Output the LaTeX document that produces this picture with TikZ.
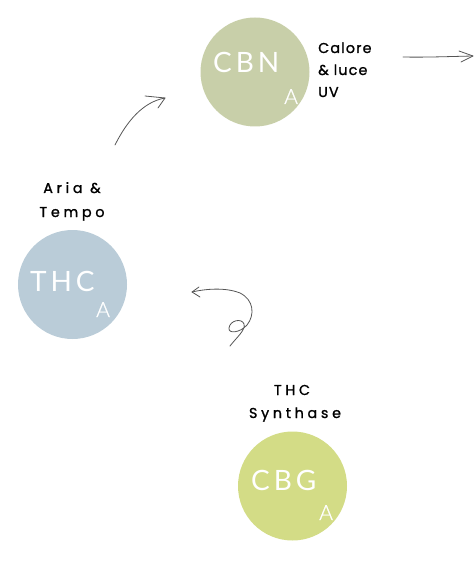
\documentclass[tikz,border=0pt]{standalone}
\usepackage{fontspec}
\setmainfont{Poppins}
\newfontfamily\labfont{Poppins}[LetterSpace=26, FakeBold=1.2]
\newfontfamily\calfont{Poppins}[LetterSpace=8, FakeBold=1.2]
\newfontfamily\circfont{Lato}[LetterSpace=14]
\newfontfamily\subfont{Lato Light}[FakeBold=1]
\definecolor{cbncol}{HTML}{C8CFA9}
\definecolor{thccol}{HTML}{BACCD8}
\definecolor{cbgcol}{HTML}{D3DC86}
\definecolor{arrcol}{HTML}{555555}
\tikzset{
  circ/.style={circle, inner sep=0pt, minimum size=109pt, draw=none},
  bigtxt/.style={text=white, inner sep=0pt, anchor=base west, font=\circfont\fontsize{28}{28}\selectfont},
  subtxt/.style={text=white, inner sep=0pt, anchor=base west, font=\subfont\fontsize{21}{21}\selectfont},
  labtxt/.style={text=black, inner sep=0pt, anchor=base, font=\labfont\fontsize{14.3}{15}\selectfont},
  caltxt/.style={text=black, inner sep=0pt, anchor=base west, font=\calfont\fontsize{14.3}{15}\selectfont},
  hand/.style={draw=arrcol, line width=0.8pt, line cap=round, line join=round}
}
\begin{document}
\begin{tikzpicture}[x=1pt,y=-1pt]
\useasboundingbox (0,0) rectangle (474,561);
% circles
\node[circ, fill=cbncol] (cbn) at (255,72) {};
\node[circ, fill=thccol] (thc) at (72.5,284.5) {};
\node[circ, fill=cbgcol] (cbg) at (292.5,486) {};
% circle texts
\node[bigtxt] (cbnt) at (213,73) {CBN};
\node[subtxt] (cbna) at (284,104) {A};
\node[bigtxt] (thct) at (30,291) {THC};
\node[subtxt] (thca) at (96,317) {A};
\node[bigtxt] (cbgt) at (251,490) {CBG};
\node[subtxt] (cbga) at (319,520) {A};
% labels
\node[caltxt] (l1) at (318,53) {Calore};
\node[caltxt] (l2) at (318,75) {\& luce};
\node[caltxt] (l3) at (318,97) {UV};
\node[labtxt] (l4) at (72,193) {Aria \&};
\node[labtxt] (l5) at (72,217) {Tempo};
\node[labtxt] (l6) at (292,395) {THC};
\node[labtxt] (l7) at (295,418) {Synthase};
% arrow 1
\coordinate (a1s) at (115,145);
\coordinate (a1e) at (165,98);
\coordinate (a1h1) at (145,96);
\coordinate (a1h2) at (158,108);
\draw[hand] (a1s) .. controls (127,121) and (143,102) .. (a1e);
\draw[hand] (a1h1) -- (a1e) -- (a1h2);
% arrow 2
\coordinate (a2s) at (403,57);
\coordinate (a2e) at (473,56);
\coordinate (a2h1) at (459,51);
\coordinate (a2h2) at (461,62);
\draw[hand] (a2s) .. controls (425,57.5) and (450,56.5) .. (a2e);
\draw[hand] (a2h1) -- (a2e) -- (a2h2);
% arrow 3 (squiggle)
\coordinate (a3s) at (230,346);
\coordinate (a3e) at (192,292);
\coordinate (a3h1) at (199,287);
\coordinate (a3h2) at (200,297);
\draw[hand] (a3s) .. controls (236,338) and (246,330) .. (244,324)
  .. controls (242,318) and (230,320) .. (229,328)
  .. controls (228,334) and (240,333) .. (247,325)
  .. controls (255,315) and (254,300) .. (240,293)
  .. controls (225,287) and (205,289) .. (a3e);
\draw[hand] (a3h1) -- (a3e) -- (a3h2);
\end{tikzpicture}
\end{document}
